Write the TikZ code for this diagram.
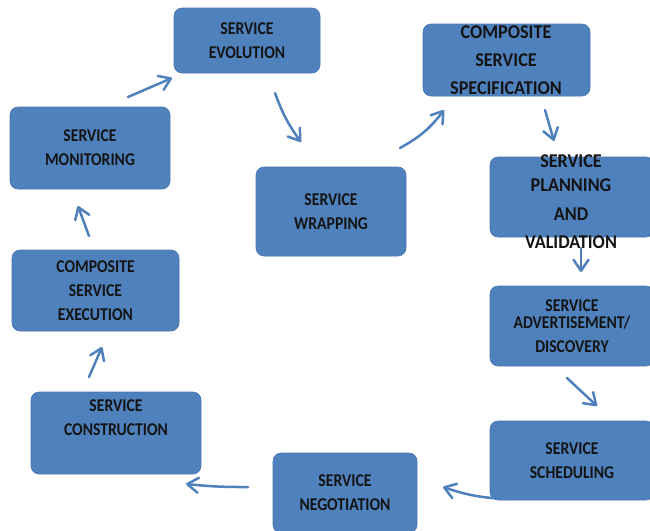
\documentclass[tikz,border=0pt]{standalone}
\usepackage{fontspec}
\newfontfamily\boxfont[FakeStretch=0.87]{Carlito}
\newfontfamily\bigboxfont[FakeStretch=0.93]{Carlito}
\usetikzlibrary{arrows.meta}
\definecolor{stepblue}{HTML}{4F81BD}
\tikzset{
     phase/.style = {rectangle, rounded corners=8pt, fill=stepblue, draw=stepblue!92!black,
                     line width=0.6pt, align=center, inner sep=0pt, text=black!92,
                     font=\boxfont\bfseries\fontsize{18}{24}\selectfont},
     bigtext/.style = {align=center, inner sep=0pt, text=black!92,
                     font=\bigboxfont\bfseries\fontsize{19.5}{28}\selectfont},
     flow/.style = {stepblue, line width=2.5pt, line cap=round,
                    -{Straight Barb[length=11pt,width=15pt,round]}},
    }

\begin{document}
\begin{tikzpicture}[x=1pt,y=-1pt]
            \useasboundingbox (0,0) rectangle (650,530);

            \node [phase, minimum width=146pt, minimum height=65pt] (evo)  at (247,40.5)  {SERVICE\\EVOLUTION};
            \node [phase, minimum width=167pt, minimum height=72pt] (spec) at (506.5,60)  {};
            \node [bigtext] (spectext) at (506,60) {COMPOSITE\\SERVICE\\SPECIFICATION};
            \node [phase, minimum width=160pt, minimum height=82pt] (mon)  at (90,148)    {SERVICE\\MONITORING};
            \node [phase, minimum width=150pt, minimum height=89pt] (wrap) at (331,211.5) {SERVICE\\WRAPPING};
            \node [phase, minimum width=164pt, minimum height=80pt] (plan) at (572,197)   {};
            \node [bigtext] (plantext) at (571,202) {SERVICE\\[-4pt]PLANNING\\[1pt]AND\\VALIDATION};
            \node [phase, minimum width=167pt, minimum height=81pt] (exe)  at (95.5,290.5) {COMPOSITE\\SERVICE\\EXECUTION};
            \node [phase, minimum width=164pt, minimum height=80pt] (adv)  at (572,326)   {SERVICE\\[-7pt]ADVERTISEMENT/\\DISCOVERY};
            \node [phase, minimum width=170pt, minimum height=82pt] (con)  at (116,433)   {SERVICE\\CONSTRUCTION\\ \strut};
            \node [phase, minimum width=164pt, minimum height=79pt] (sch)  at (572,460.5) {SERVICE\\SCHEDULING};
            \node [phase, minimum width=144pt, minimum height=80pt] (neg)  at (345,493)   {SERVICE\\NEGOTIATION};

            % arrow ends
            \coordinate (me1) at (128,97);   \coordinate (me2) at (172,78);
            \coordinate (ew1) at (275,93);   \coordinate (ew2) at (301,142);
            \coordinate (ws1) at (400,148);  \coordinate (ws2) at (444,110);
            \coordinate (sp1) at (545,110);  \coordinate (sp2) at (554,141);
            \coordinate (pa1) at (581,248);  \coordinate (pa2) at (581,272);
            \coordinate (as1) at (567,378);  \coordinate (as2) at (597,406);
            \coordinate (sn1) at (507,499);  \coordinate (sn2) at (443,487);
            \coordinate (nc1) at (248,487);  \coordinate (nc2) at (186,484);
            \coordinate (ce1) at (89,377);   \coordinate (ce2) at (102,347);
            \coordinate (em1) at (89,236);   \coordinate (em2) at (78,206);

            \path[flow]
            (me1) edge                 (me2)
            (ew1) edge [bend right=8]  (ew2)
            (ws1) edge [bend right=12] (ws2)
            (sp1) edge                 (sp2)
            (pa1) edge                 (pa2)
            (as1) edge                 (as2)
            (sn1) edge [bend left=8]   (sn2)
            (nc1) edge [bend left=3]   (nc2)
            (ce1) edge                 (ce2)
            (em1) edge                 (em2);
      \end{tikzpicture}
\end{document}
